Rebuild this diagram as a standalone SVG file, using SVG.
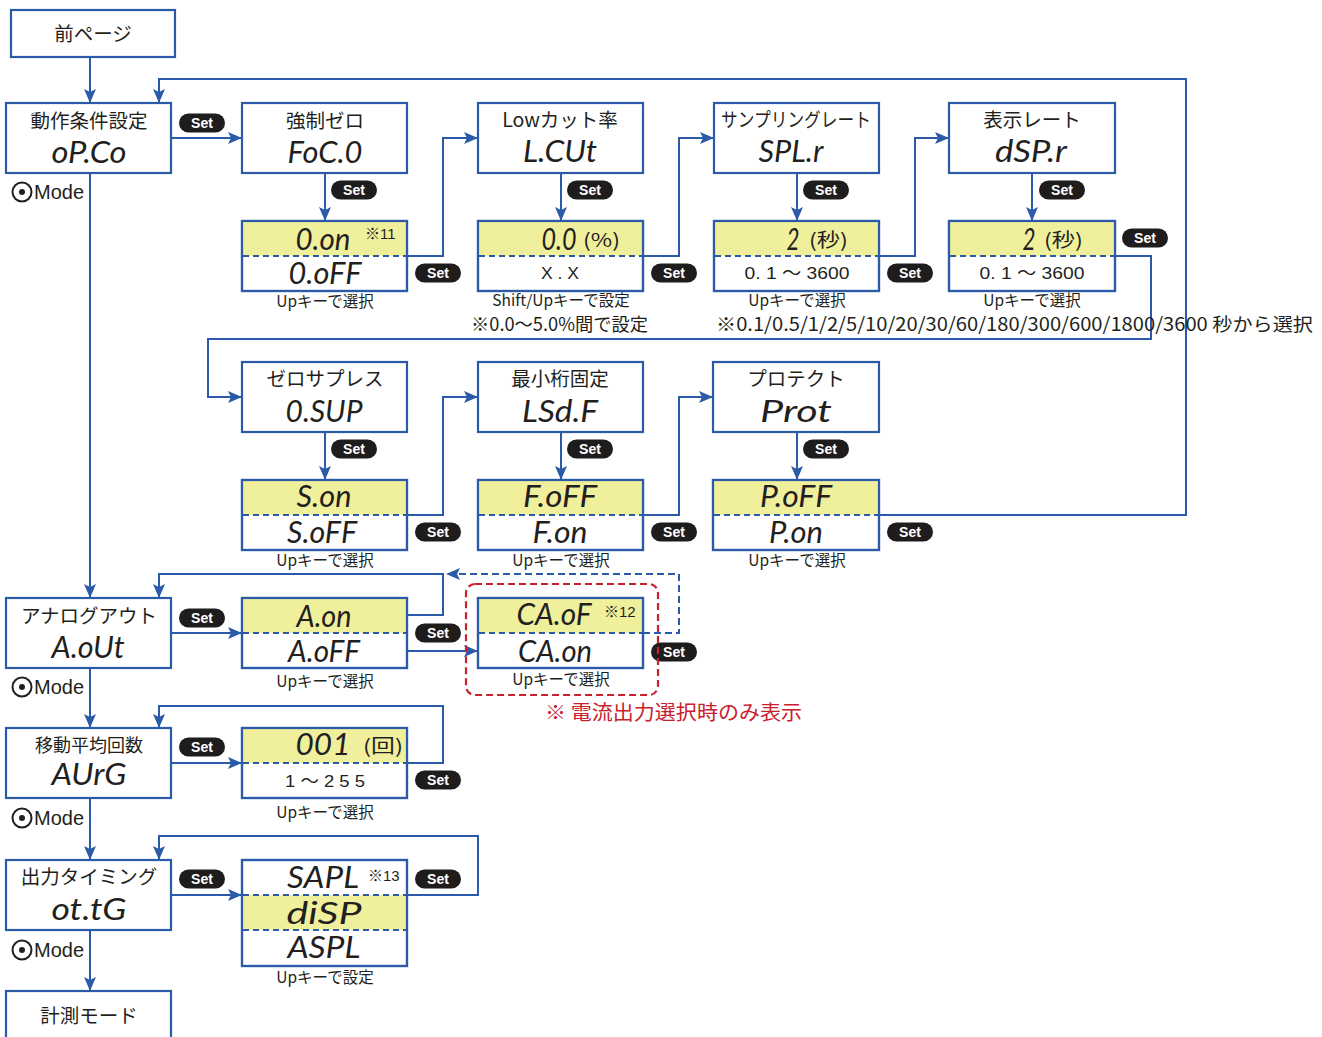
<svg xmlns="http://www.w3.org/2000/svg" width="1322" height="1037" viewBox="0 0 1322 1037">
<style>
.box{fill:#fff;stroke:#2b5ba8;stroke-width:2.2}
.ol{fill:none;stroke:#2b5ba8;stroke-width:2.2}
.yel{fill:#f0ef9c}
.sep{stroke:#2b5ba8;stroke-width:2;stroke-dasharray:6 4}
.ln{fill:none;stroke:#2b5ba8;stroke-width:2}
.dl{fill:none;stroke:#2b5ba8;stroke-width:2;stroke-dasharray:7 4}
.red{fill:none;stroke:#c8202e;stroke-width:2.2;stroke-dasharray:7 4}
.t{font-family:"Noto Sans CJK JP","Noto Sans",sans-serif;font-size:19.5px;fill:#231f20;text-anchor:middle}
.s{font-family:"Noto Sans CJK JP","Noto Sans",sans-serif;font-size:15.5px;fill:#231f20;text-anchor:middle}
.n{font-family:"Noto Sans CJK JP","Noto Sans",sans-serif;font-size:18.5px;fill:#231f20}
.seg{font-family:Lato,"DejaVu Sans",sans-serif;font-style:italic;font-weight:400;font-size:31px;fill:#231f20;text-anchor:middle}
.num{font-family:"Liberation Sans","Noto Sans CJK JP",sans-serif;font-size:17px;fill:#231f20;text-anchor:middle}
.mk{font-family:"Liberation Sans","Noto Sans CJK JP",sans-serif;font-size:15px;fill:#231f20}
.par{font-family:"Noto Sans CJK JP",sans-serif;font-size:19px;fill:#231f20}
.mode text{font-family:"Liberation Sans","Noto Sans",sans-serif;font-size:20px;fill:#231f20}
</style>
<defs>
<marker id="ah" viewBox="0 0 14 12" refX="14" refY="6" markerWidth="14" markerHeight="12" markerUnits="userSpaceOnUse" orient="auto">
<path d="M0,0 L14,6 L0,12 L3,6 z" fill="#2b5ba8"/>
</marker>
<g id="pill"><rect x="-23" y="-9.5" width="46" height="19" rx="9.5" fill="#1f1c1d"/><text y="5" fill="#fff" font-family="Liberation Sans, Arial, sans-serif" font-weight="bold" font-size="14" text-anchor="middle">Set</text></g>
</defs>

<!-- connectors -->
<g id="connectors">
<path class="ln" d="M90,57 V103" marker-end="url(#ah)"/>
<path class="ln" d="M879,515 H1186 V79 H159 V103" marker-end="url(#ah)"/>
<path class="ln" d="M171,138 H242" marker-end="url(#ah)"/>
<path class="ln" d="M325,173 V221" marker-end="url(#ah)"/>
<path class="ln" d="M407,256 H443 V138 H478" marker-end="url(#ah)"/>
<path class="ln" d="M561,173 V221" marker-end="url(#ah)"/>
<path class="ln" d="M643,256 H679 V138 H714" marker-end="url(#ah)"/>
<path class="ln" d="M797,173 V221" marker-end="url(#ah)"/>
<path class="ln" d="M879,256 H915 V138 H949" marker-end="url(#ah)"/>
<path class="ln" d="M1032,173 V221" marker-end="url(#ah)"/>
<path class="ln" d="M1115,256 H1151 V339 H208 V397 H242" marker-end="url(#ah)"/>
<path class="ln" d="M325,432 V480" marker-end="url(#ah)"/>
<path class="ln" d="M407,515 H443 V397 H478" marker-end="url(#ah)"/>
<path class="ln" d="M561,432 V480" marker-end="url(#ah)"/>
<path class="ln" d="M643,515 H679 V397 H713" marker-end="url(#ah)"/>
<path class="ln" d="M797,432 V480" marker-end="url(#ah)"/>
<path class="ln" d="M90,173 V598" marker-end="url(#ah)"/>
<path class="ln" d="M407,615 H443 V574 H159 V598" marker-end="url(#ah)"/>
<path class="ln" d="M171,633 H242" marker-end="url(#ah)"/>
<path class="ln" d="M407,651 H478" marker-end="url(#ah)"/>
<path class="dl" d="M643,633 H679 V574 H446" marker-end="url(#ah)"/>
<path class="ln" d="M90,668 V728" marker-end="url(#ah)"/>
<path class="ln" d="M171,763 H242" marker-end="url(#ah)"/>
<path class="ln" d="M407,763 H443 V706 H159 V728" marker-end="url(#ah)"/>
<path class="ln" d="M90,798 V860" marker-end="url(#ah)"/>
<path class="ln" d="M171,895 H242" marker-end="url(#ah)"/>
<path class="ln" d="M407,895 H478 V836 H159 V860" marker-end="url(#ah)"/>
<path class="ln" d="M90,930 V991" marker-end="url(#ah)"/>
</g>

<!-- Set pills -->
<g id="set-labels">
<use href="#pill" x="202" y="123"/>
<use href="#pill" x="354" y="190"/>
<use href="#pill" x="438" y="273"/>
<use href="#pill" x="590" y="190"/>
<use href="#pill" x="674" y="273"/>
<use href="#pill" x="826" y="190"/>
<use href="#pill" x="910" y="273"/>
<use href="#pill" x="1062" y="190"/>
<use href="#pill" x="1145" y="238"/>
<use href="#pill" x="354" y="449"/>
<use href="#pill" x="438" y="532"/>
<use href="#pill" x="590" y="449"/>
<use href="#pill" x="674" y="532"/>
<use href="#pill" x="826" y="449"/>
<use href="#pill" x="910" y="532"/>
<use href="#pill" x="202" y="618"/>
<use href="#pill" x="438" y="633"/>
<use href="#pill" x="674" y="652"/>
<use href="#pill" x="202" y="747"/>
<use href="#pill" x="438" y="780"/>
<use href="#pill" x="202" y="879"/>
<use href="#pill" x="438" y="879"/>
</g>

<!-- Mode labels -->
<g id="mode-labels" class="mode">
<g><circle cx="22" cy="192" r="9.5" fill="none" stroke="#231f20" stroke-width="2"/><circle cx="22" cy="192" r="3" fill="#231f20"/><text x="34" y="199">Mode</text></g>
<g transform="translate(0,495)"><circle cx="22" cy="192" r="9.5" fill="none" stroke="#231f20" stroke-width="2"/><circle cx="22" cy="192" r="3" fill="#231f20"/><text x="34" y="199">Mode</text></g>
<g transform="translate(0,626)"><circle cx="22" cy="192" r="9.5" fill="none" stroke="#231f20" stroke-width="2"/><circle cx="22" cy="192" r="3" fill="#231f20"/><text x="34" y="199">Mode</text></g>
<g transform="translate(0,758)"><circle cx="22" cy="192" r="9.5" fill="none" stroke="#231f20" stroke-width="2"/><circle cx="22" cy="192" r="3" fill="#231f20"/><text x="34" y="199">Mode</text></g>
</g>

<!-- nodes -->
<g id="prev-page"><rect class="box" x="11" y="10" width="164" height="47"/><text class="t" x="93" y="41">前ページ</text></g>

<g id="opco"><rect class="box" x="6" y="103" width="165" height="70"/><text class="t" x="89" y="128">動作条件設定</text><text class="seg" x="89" y="163" textLength="75" lengthAdjust="spacingAndGlyphs">oP.Co</text></g>

<g id="foco"><rect class="box" x="242" y="103" width="165" height="70"/><text class="t" x="325" y="128">強制ゼロ</text><text class="seg" x="325" y="163" textLength="75" lengthAdjust="spacingAndGlyphs">FoC.0</text></g>

<g id="foco-val"><rect class="box" x="242" y="221" width="165" height="70"/><rect class="yel" x="243" y="222" width="163" height="34"/><line class="sep" x1="243" y1="256" x2="406" y2="256"/><rect class="ol" x="242" y="221" width="165" height="70"/>
<text class="seg" x="323" y="250" textLength="55" lengthAdjust="spacingAndGlyphs">0.on</text><text class="mk" x="365" y="239">※11</text>
<text class="seg" x="325" y="284" textLength="73" lengthAdjust="spacingAndGlyphs">0.oFF</text></g>
<text class="s" x="325" y="307">Upキーで選択</text>

<g id="lcut"><rect class="box" x="478" y="103" width="165" height="70"/><text class="t" x="560" y="127">Lowカット率</text><text class="seg" x="560" y="162" textLength="74" lengthAdjust="spacingAndGlyphs">L.CUt</text></g>

<g id="lcut-val"><rect class="box" x="478" y="221" width="165" height="70"/><rect class="yel" x="479" y="222" width="163" height="34"/><line class="sep" x1="479" y1="256" x2="642" y2="256"/><rect class="ol" x="478" y="221" width="165" height="70"/>
<text class="seg" x="559" y="250" textLength="35" lengthAdjust="spacingAndGlyphs">0.0</text><text class="par" x="583" y="247" textLength="37" lengthAdjust="spacingAndGlyphs">(%)</text>
<text class="num" x="560" y="279" textLength="38" lengthAdjust="spacingAndGlyphs">X . X</text></g>
<text class="s" x="561" y="306">Shift/Upキーで設定</text>
<text class="n" x="471" y="331" textLength="177" lengthAdjust="spacingAndGlyphs">※0.0〜5.0%間で設定</text>

<g id="splr"><rect class="box" x="714" y="103" width="165" height="70"/><text class="t" x="796" y="127" textLength="150" lengthAdjust="spacingAndGlyphs">サンプリングレート</text><text class="seg" x="791" y="162" textLength="65" lengthAdjust="spacingAndGlyphs">SPL.r</text></g>

<g id="splr-val"><rect class="box" x="714" y="221" width="165" height="70"/><rect class="yel" x="715" y="222" width="163" height="34"/><line class="sep" x1="715" y1="256" x2="878" y2="256"/><rect class="ol" x="714" y="221" width="165" height="70"/>
<text class="seg" x="793" y="250" textLength="13" lengthAdjust="spacingAndGlyphs">2</text><text class="par" x="809" y="247" textLength="39" lengthAdjust="spacingAndGlyphs">(秒)</text>
<text class="num" x="797" y="279" textLength="105" lengthAdjust="spacingAndGlyphs">0. 1 ～ 3600</text></g>
<text class="s" x="797" y="306">Upキーで選択</text>

<g id="dspr"><rect class="box" x="949" y="103" width="166" height="70"/><text class="t" x="1032" y="127">表示レート</text><text class="seg" x="1031" y="162" textLength="72" lengthAdjust="spacingAndGlyphs">dSP.r</text></g>

<g id="dspr-val"><rect class="box" x="949" y="221" width="166" height="70"/><rect class="yel" x="950" y="222" width="164" height="34"/><line class="sep" x1="950" y1="256" x2="1114" y2="256"/><rect class="ol" x="949" y="221" width="166" height="70"/>
<text class="seg" x="1029" y="250" textLength="13" lengthAdjust="spacingAndGlyphs">2</text><text class="par" x="1044" y="247" textLength="39" lengthAdjust="spacingAndGlyphs">(秒)</text>
<text class="num" x="1032" y="279" textLength="105" lengthAdjust="spacingAndGlyphs">0. 1 ～ 3600</text></g>
<text class="s" x="1032" y="306">Upキーで選択</text>
<text class="n" x="716" y="331" textLength="597" lengthAdjust="spacingAndGlyphs">※0.1/0.5/1/2/5/10/20/30/60/180/300/600/1800/3600 秒から選択</text>

<g id="osup"><rect class="box" x="242" y="362" width="165" height="70"/><text class="t" x="325" y="386">ゼロサプレス</text><text class="seg" x="324" y="422" textLength="77" lengthAdjust="spacingAndGlyphs">0.SUP</text></g>
<g id="osup-val"><rect class="box" x="242" y="480" width="165" height="70"/><rect class="yel" x="243" y="481" width="163" height="34"/><line class="sep" x1="243" y1="515" x2="406" y2="515"/><rect class="ol" x="242" y="480" width="165" height="70"/>
<text class="seg" x="324" y="507" textLength="55" lengthAdjust="spacingAndGlyphs">S.on</text>
<text class="seg" x="322" y="543" textLength="70" lengthAdjust="spacingAndGlyphs">S.oFF</text></g>
<text class="s" x="325" y="566">Upキーで選択</text>

<g id="lsdf"><rect class="box" x="478" y="362" width="165" height="70"/><text class="t" x="560" y="386">最小桁固定</text><text class="seg" x="560" y="422" textLength="76" lengthAdjust="spacingAndGlyphs">LSd.F</text></g>
<g id="lsdf-val"><rect class="box" x="478" y="480" width="165" height="70"/><rect class="yel" x="479" y="481" width="163" height="34"/><line class="sep" x1="479" y1="515" x2="642" y2="515"/><rect class="ol" x="478" y="480" width="165" height="70"/>
<text class="seg" x="560" y="507" textLength="74" lengthAdjust="spacingAndGlyphs">F.oFF</text>
<text class="seg" x="560" y="543" textLength="55" lengthAdjust="spacingAndGlyphs">F.on</text></g>
<text class="s" x="561" y="566">Upキーで選択</text>

<g id="prot"><rect class="box" x="713" y="362" width="166" height="70"/><text class="t" x="796" y="386">プロテクト</text><text class="seg" x="796" y="422" textLength="72" lengthAdjust="spacingAndGlyphs">Prot</text></g>
<g id="prot-val"><rect class="box" x="713" y="480" width="166" height="70"/><rect class="yel" x="714" y="481" width="164" height="34"/><line class="sep" x1="714" y1="515" x2="878" y2="515"/><rect class="ol" x="713" y="480" width="166" height="70"/>
<text class="seg" x="796" y="507" textLength="72" lengthAdjust="spacingAndGlyphs">P.oFF</text>
<text class="seg" x="796" y="543" textLength="54" lengthAdjust="spacingAndGlyphs">P.on</text></g>
<text class="s" x="797" y="566">Upキーで選択</text>

<g id="aout"><rect class="box" x="6" y="598" width="165" height="70"/><text class="t" x="89" y="623">アナログアウト</text><text class="seg" x="88" y="658" textLength="73" lengthAdjust="spacingAndGlyphs">A.oUt</text></g>
<g id="aout-val"><rect class="box" x="242" y="598" width="165" height="70"/><rect class="yel" x="243" y="599" width="163" height="34"/><line class="sep" x1="243" y1="633" x2="406" y2="633"/><rect class="ol" x="242" y="598" width="165" height="70"/>
<text class="seg" x="324" y="627" textLength="55" lengthAdjust="spacingAndGlyphs">A.on</text>
<text class="seg" x="324" y="662" textLength="72" lengthAdjust="spacingAndGlyphs">A.oFF</text></g>
<text class="s" x="325" y="687">Upキーで選択</text>

<g id="caof"><rect class="red" x="466" y="584" width="192" height="111" rx="9"/>
<rect class="box" x="478" y="598" width="165" height="70"/><rect class="yel" x="479" y="599" width="163" height="34"/><line class="sep" x1="479" y1="633" x2="642" y2="633"/><rect class="ol" x="478" y="598" width="165" height="70"/>
<text class="seg" x="554" y="625" textLength="75" lengthAdjust="spacingAndGlyphs">CA.oF</text><text class="mk" x="604" y="617">※12</text>
<text class="seg" x="555" y="662" textLength="74" lengthAdjust="spacingAndGlyphs">CA.on</text>
<text class="s" x="561" y="685">Upキーで選択</text></g>
<text x="545" y="720" textLength="257" lengthAdjust="spacingAndGlyphs" style="font-family:'Noto Sans CJK JP',sans-serif;font-size:20px;fill:#c8202e">※ 電流出力選択時のみ表示</text>

<g id="avrg"><rect class="box" x="6" y="728" width="165" height="70"/><text class="t" x="89" y="752" style="font-size:18px">移動平均回数</text><text class="seg" x="89" y="785" textLength="75" lengthAdjust="spacingAndGlyphs">AUrG</text></g>
<g id="avrg-val"><rect class="box" x="242" y="728" width="165" height="70"/><rect class="yel" x="243" y="729" width="163" height="34"/><line class="sep" x1="243" y1="763" x2="406" y2="763"/><rect class="ol" x="242" y="728" width="165" height="70"/>
<text class="seg" x="323" y="755" textLength="55" lengthAdjust="spacingAndGlyphs">001</text><text class="par" x="363" y="753" textLength="40" lengthAdjust="spacingAndGlyphs">(回)</text>
<text class="num" x="325" y="787" textLength="80" lengthAdjust="spacingAndGlyphs">1 ～ 2 5 5</text></g>
<text class="s" x="325" y="818">Upキーで選択</text>

<g id="ottg"><rect class="box" x="6" y="860" width="165" height="70"/><text class="t" x="89" y="884">出力タイミング</text><text class="seg" x="89" y="920" textLength="75" lengthAdjust="spacingAndGlyphs">ot.tG</text></g>
<g id="ottg-val"><rect class="box" x="242" y="860" width="165" height="106"/><rect class="yel" x="243" y="895" width="163" height="35"/><line class="sep" x1="243" y1="895" x2="406" y2="895"/><line class="sep" x1="243" y1="930" x2="406" y2="930"/><rect class="ol" x="242" y="860" width="165" height="106"/>
<text class="seg" x="323" y="888" textLength="72" lengthAdjust="spacingAndGlyphs">SAPL</text><text class="mk" x="368" y="881">※13</text>
<text class="seg" x="324" y="924" textLength="75" lengthAdjust="spacingAndGlyphs">diSP</text>
<text class="seg" x="324" y="958" textLength="73" lengthAdjust="spacingAndGlyphs">ASPL</text></g>
<text class="s" x="325" y="983">Upキーで設定</text>

<g id="measure"><rect class="box" x="6" y="991" width="165" height="60"/><text class="t" x="89" y="1023">計測モード</text></g>
</svg>
